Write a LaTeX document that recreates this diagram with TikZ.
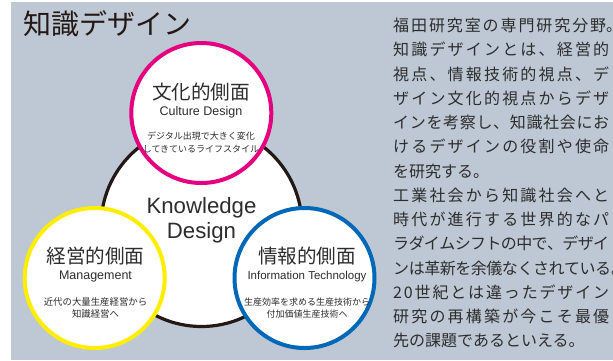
\documentclass[tikz,border=0pt]{standalone}
\usepackage{fontspec}
\setmainfont{Liberation Sans}
\newfontfamily\jpfont{Noto Sans CJK JP}
\definecolor{bg}{RGB}{189,200,212}
\definecolor{ink}{RGB}{35,24,21}
\definecolor{txt}{RGB}{45,45,45}
\definecolor{pinkc}{RGB}{228,0,127}
\definecolor{yelc}{RGB}{255,238,0}
\definecolor{bluec}{RGB}{0,104,183}
\newcommand\setfs[1]{\fontsize{#1}{#1}\selectfont}
% spread characters of a line over a fixed width
\def\jlA#1{#1\jlB}
\def\jlB#1{\ifx#1\relax\else\hskip 0pt plus 1fil minus 1pt #1\expandafter\jlB\fi}
\newcommand\jlw[2]{\makebox[#1][s]{\jlA#2\relax}}
\newcommand\jl[1]{\jlw{216pt}{#1}}
\tikzset{
  ring/.style={circle, inner sep=0pt, minimum size=140pt, line width=4pt, fill=white},
  hub/.style={circle, inner sep=0pt, minimum size=201pt, line width=3.2pt, draw=ink, fill=white},
  lbl/.style={inner sep=0pt, text=txt},
  headjp/.style={lbl, font=\jpfont\setfs{19.6}},
  subjp/.style={lbl, font=\jpfont\setfs{9}},
  en/.style={lbl, anchor=base},
  para/.style={inner sep=0pt, anchor=base west, text=txt, font=\jpfont\setfs{16}},
}
\begin{document}
\begin{tikzpicture}[x=1pt,y=-1pt]
\useasboundingbox (0,0) rectangle (613,360);
\fill[bg] (11,2) rectangle (613,360);

\node[lbl, font=\jpfont\setfs{28}, text=ink] (title) at (107.5,24) {知識デザイン};

% circles
\node[hub] (hubc) at (201.5,226) {};
\node[ring, draw=pinkc] (culture) at (201.3,113) {};
\node[ring, draw=yelc] (manage) at (94.7,278) {};
\node[ring, draw=bluec] (info) at (304.5,278) {};

% hub text
\node[en, font=\setfs{22.2}] (kd1) at (201.5,213) {Knowledge};
\node[en, font=\setfs{22.2}] (kd2) at (201.5,238) {Design};

% culture
\node[headjp] (c1) at (201,92) {文化的側面};
\node[en, font=\setfs{12.5}] (c2) at (201,115) {Culture Design};
\node[subjp] (c3) at (201,136) {デジタル出現で大きく変化};
\node[subjp] (c4) at (201,149) {してきているライフスタイル};

% management
\node[headjp] (m1) at (95.5,256.5) {経営的側面};
\node[en, font=\setfs{12.5}] (m2) at (95.5,279.5) {Management};
\node[subjp, font=\jpfont\setfs{9.4}] (m3) at (95.5,302) {近代の大量生産経営から};
\node[subjp, font=\jpfont\setfs{9.4}] (m4) at (95.5,314) {知識経営へ};

% information
\node[headjp] (i1) at (307,256.5) {情報的側面};
\node[en, font=\setfs{11.5}] (i2) at (307,279.5) {Information Technology};
\node[subjp] (i3) at (307,302) {生産効率を求める生産技術から};
\node[subjp] (i4) at (307,314) {付加価値生産技術へ};

% right text
\node[para] (p1) at (393,31.6) {\jlw{213pt}{福田研究室の専門研究分野}。};
\node[para] (p2) at (393,55.85) {\jl{知識デザインとは、経営的}};
\node[para] (p3) at (393,80.1) {\jl{視点、情報技術的視点、デ}};
\node[para] (p4) at (393,104.35) {\jl{ザイン文化的視点からデザ}};
\node[para] (p5) at (393,128.6) {\jl{インを考察し、知識社会にお}};
\node[para] (p6) at (393,152.85) {\jl{けるデザインの役割や使命}};
\node[para] (p7) at (393,177.1) {を研究する。};
\node[para] (p8) at (393,201.35) {\jl{工業社会から知識社会へと}};
\node[para] (p9) at (393,225.6) {\jl{時代が進行する世界的なパ}};
\node[para] (p10) at (393,249.85) {\jl{ラダイムシフトの中で、デザイ}};
\node[para] (p11) at (393,274.1) {\jlw{218pt}{ンは革新を余儀なくされている}。};
\node[para] (p12) at (393,298.35) {\jl{20世紀とは違ったデザイン}};
\node[para] (p13) at (393,322.6) {\jl{研究の再構築が今こそ最優}};
\node[para] (p14) at (393,346.85) {先の課題であるといえる。};
\end{tikzpicture}
\end{document}
